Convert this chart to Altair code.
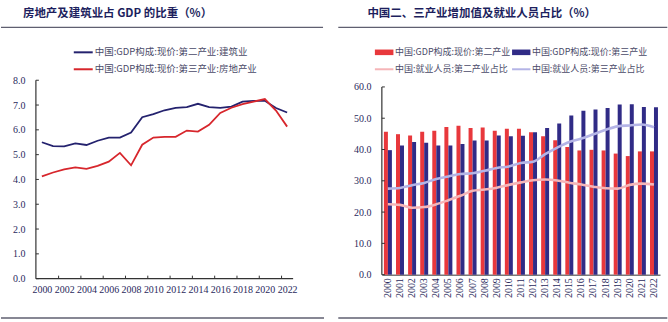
import altair as alt
import pandas as pd

# ---------------- data ----------------
years = list(range(2000, 2023))

construction_share = [5.50, 5.34, 5.33, 5.45, 5.39, 5.56, 5.69, 5.69, 5.89, 6.51, 6.63, 6.79,
                      6.89, 6.92, 7.05, 6.92, 6.89, 6.94, 7.14, 7.17, 7.17, 6.88, 6.70]
realestate_share = [4.12, 4.28, 4.41, 4.49, 4.43, 4.55, 4.72, 5.07, 4.57, 5.40, 5.69, 5.72,
                    5.72, 5.97, 5.93, 6.20, 6.68, 6.89, 7.04, 7.14, 7.24, 6.78, 6.13]

secondary_gdp = [45.7, 44.9, 44.5, 45.7, 46.0, 47.2, 47.6, 46.9, 47.0, 46.0, 46.6, 46.6,
                 45.5, 44.2, 43.0, 40.8, 39.7, 39.9, 39.7, 38.7, 37.9, 39.4, 39.4]
tertiary_gdp = [39.8, 41.3, 42.4, 42.2, 41.3, 41.3, 41.8, 42.9, 42.9, 44.5, 44.2, 44.4,
                45.5, 46.9, 48.3, 50.9, 52.4, 52.8, 53.3, 54.4, 54.5, 53.6, 53.5]
secondary_emp = [22.5, 22.3, 21.4, 21.6, 22.5, 23.8, 25.2, 26.8, 27.2, 27.8, 28.7, 29.5,
                 30.2, 30.4, 30.1, 29.4, 28.8, 28.1, 27.6, 27.5, 28.7, 29.1, 28.8]
tertiary_emp = [27.5, 27.7, 28.6, 29.3, 30.6, 31.4, 32.2, 32.4, 33.2, 34.1, 34.6, 35.7,
                36.1, 38.5, 40.6, 42.4, 43.5, 44.9, 46.3, 47.4, 47.7, 48.0, 47.1]

left_title = "房地产及建筑业占 GDP 的比重（%）"
right_title = "中国二、三产业增加值及就业人员占比（%）"
left_series = ["中国:GDP构成:现价:第二产业:建筑业", "中国:GDP构成:现价:第三产业:房地产业"]
right_series = ["中国:GDP构成:现价:第二产业", "中国:GDP构成:现价:第三产业",
                "中国:就业人员:第二产业占比", "中国:就业人员:第三产业占比"]

left_y_ticks = [0.0, 1.0, 2.0, 3.0, 4.0, 5.0, 6.0, 7.0, 8.0]
right_y_ticks = [0.0, 10.0, 20.0, 30.0, 40.0, 50.0, 60.0]

# ---------------- style ----------------
NAVY = "#24226e"
RED = "#d7262c"
BAR_RED = "#e8383c"
BAR_BLUE = "#302b86"
PINK = "#f5b5b8"
LAV = "#b4b4e6"
TITLE_C = "#1d1f5e"
AX_TXT = "#2a2a5c"
LEG_TXT = "#4a4a68"
RULE_C = "#5f5f70"
AXIS_C = "#333333"
CJK = "Noto Sans CJK SC"
SERIF = "Liberation Serif"

ONE = pd.DataFrame({"k": [0]})


def txt(s, x, y, size, color, weight="normal", font=CJK, align="left"):
    return alt.Chart(ONE).mark_text(text=s, align=align, baseline="middle", fontSize=size,
                                    font=font, fontWeight=weight, color=color
                                    ).encode(x=alt.value(x), y=alt.value(y))


def hrule(x1, x2, y, color, width, opacity=1.0):
    return alt.Chart(ONE).mark_rule(color=color, strokeWidth=width, opacity=opacity).encode(
        x=alt.value(x1), x2=alt.value(x2), y=alt.value(y))


def rect(x1, x2, y1, y2, color):
    return alt.Chart(ONE).mark_rect(color=color).encode(
        x=alt.value(x1), x2=alt.value(x2), y=alt.value(y1), y2=alt.value(y2))


# ---------------- left panel ----------------
W1, H1 = 258, 199
pad_years = 0.537
xs1 = alt.Scale(domain=[years[0] - pad_years, years[-1] + pad_years], nice=False, zero=False)
ys1 = alt.Scale(domain=[left_y_ticks[0], left_y_ticks[-1]], nice=False)
ax1x = alt.Axis(values=years[::2], format="d", ticks=False, grid=False, domain=False,
                labelFont=SERIF, labelFontSize=10, labelColor=AX_TXT, labelOverlap=False,
                labelPadding=6, title=None)
ax1y = alt.Axis(values=left_y_ticks, format=".1f", ticks=False, grid=False, domain=False,
                labelFont=SERIF, labelFontSize=10, labelColor=AX_TXT, labelOverlap=False,
                labelPadding=11, title=None)

df_left = pd.DataFrame({
    "year": years * 2,
    "series": [left_series[0]] * len(years) + [left_series[1]] * len(years),
    "value": construction_share + realestate_share,
})

lines_left = alt.Chart(df_left).mark_line(strokeWidth=1.8).encode(
    x=alt.X("year:Q", scale=xs1, axis=ax1x),
    y=alt.Y("value:Q", scale=ys1, axis=ax1y),
    stroke=alt.Stroke("series:N", scale=alt.Scale(domain=left_series, range=[NAVY, RED]), legend=None),
)

# axis lines and inward ticks (Excel style)
xdomain_left = alt.Chart(ONE).mark_rule(color=AXIS_C, strokeWidth=1.2).encode(
    x=alt.value(0), x2=alt.value(W1), y=alt.value(H1))
ydomain_left = alt.Chart(pd.DataFrame({"value": [left_y_ticks[0]], "v2": [left_y_ticks[-1]]})
                         ).mark_rule(color=AXIS_C, strokeWidth=1.2).encode(
    x=alt.value(0), y=alt.Y("value:Q", scale=ys1, axis=ax1y), y2="v2:Q")
xtick_pos = [y + 0.5 for y in years[1:-1:2]]
xticks_left = alt.Chart(pd.DataFrame({"year": xtick_pos})).mark_rule(color=AXIS_C).encode(
    x=alt.X("year:Q", scale=xs1, axis=ax1x), y=alt.value(H1), y2=alt.value(H1 - 3))
yticks_left = alt.Chart(pd.DataFrame({"value": left_y_ticks})).mark_rule(color=AXIS_C).encode(
    y=alt.Y("value:Q", scale=ys1, axis=ax1y), x=alt.value(0), x2=alt.value(3))

left = alt.layer(
    lines_left, xdomain_left, ydomain_left, xticks_left, yticks_left,
    txt(left_title, -13, -66.5, 11.5, TITLE_C, weight="bold"),
    hrule(-35, 288, -53, RULE_C, 1.4),
    hrule(38, 57, -28, NAVY, 2),
    txt(left_series[0], 59, -28, 9.5, LEG_TXT),
    hrule(38, 57, -11, RED, 2),
    txt(left_series[1], 59, -11, 9.5, LEG_TXT),
    hrule(-35, 289, 238.5, RULE_C, 1.4),
    hrule(-34.5, 298.5, -79.5, "white", 1, 0),
    hrule(-34.5, 298.5, 241.5, "white", 1, 0),
).properties(width=W1, height=H1)

# ---------------- right panel ----------------
W2, H2 = 279, 195
ys2 = alt.Scale(domain=[0, 62.14], nice=False)
color2 = alt.Scale(domain=right_series, range=[BAR_RED, BAR_BLUE, PINK, LAV])
xs2 = alt.Scale(paddingInner=0.34, paddingOuter=0.17)
ax2x = alt.Axis(labelAngle=-90, ticks=False, grid=False, labelFont=SERIF,
                labelFontSize=10, labelColor=AX_TXT, labelPadding=3,
                domainColor=AXIS_C, title=None)
ax2y = alt.Axis(values=right_y_ticks, format=".1f", ticks=False, grid=False, domain=False,
                labelFont=SERIF, labelFontSize=10, labelColor=AX_TXT, labelPadding=11,
                labelOverlap=False, title=None)

df_bars = pd.DataFrame({
    "year": years * 2,
    "series": [right_series[0]] * len(years) + [right_series[1]] * len(years),
    "value": secondary_gdp + tertiary_gdp,
})
df_emp = pd.DataFrame({
    "year": years * 2,
    "series": [right_series[2]] * len(years) + [right_series[3]] * len(years),
    "value": secondary_emp + tertiary_emp,
})

bars = alt.Chart(df_bars).mark_bar().encode(
    x=alt.X("year:O", scale=xs2, axis=ax2x),
    xOffset=alt.XOffset("series:N", scale=alt.Scale(domain=right_series[:2], paddingInner=0, paddingOuter=0)),
    y=alt.Y("value:Q", scale=ys2, axis=ax2y),
    color=alt.Color("series:N", scale=color2, legend=None),
)
emp_lines = alt.Chart(df_emp).mark_line(strokeWidth=2.6, interpolate="monotone").encode(
    x=alt.X("year:O", scale=xs2, axis=ax2x),
    y=alt.Y("value:Q", scale=ys2, axis=ax2y),
    color=alt.Color("series:N", scale=color2, legend=None),
)
ydomain_right = alt.Chart(pd.DataFrame({"value": [right_y_ticks[0]], "v2": [right_y_ticks[-1]]})
                          ).mark_rule(color=AXIS_C, strokeWidth=1.2).encode(
    x=alt.value(0), y=alt.Y("value:Q", scale=ys2, axis=ax2y), y2="v2:Q")
yticks_right = alt.Chart(pd.DataFrame({"value": right_y_ticks})).mark_rule(color=AXIS_C).encode(
    y=alt.Y("value:Q", scale=ys2, axis=ax2y), x=alt.value(0), x2=alt.value(3))

right = alt.layer(
    bars, emp_lines, ydomain_right, yticks_right,
    txt(right_title, -14.5, -66.5, 11.5, TITLE_C, weight="bold"),
    hrule(-43.7, 286.3, -53, RULE_C, 1.4),
    rect(-7, 11.6, -30.8, -25.2, BAR_RED),
    txt(right_series[0], 13.3, -28, 9, LEG_TXT),
    rect(130.6, 149, -30.8, -25.2, BAR_BLUE),
    txt(right_series[1], 150.5, -28, 9, LEG_TXT),
    hrule(-7, 11.6, -11, PINK, 2),
    txt(right_series[2], 13.3, -11, 9, LEG_TXT),
    hrule(130.6, 149, -11, LAV, 2),
    txt(right_series[3], 150.5, -11, 9, LEG_TXT),
    hrule(-43.7, 286.3, 238.5, RULE_C, 1.4),
    hrule(-47.2, 285.8, -79.5, "white", 1, 0),
    hrule(-47.2, 285.8, 241.5, "white", 1, 0),
).properties(width=W2, height=H2)

chart = (alt.hconcat(left, right, spacing=0)
         .properties(padding=0)
         .configure_view(strokeWidth=0))

chart.save("out.html", embed_options={"renderer": "svg", "actions": False})
